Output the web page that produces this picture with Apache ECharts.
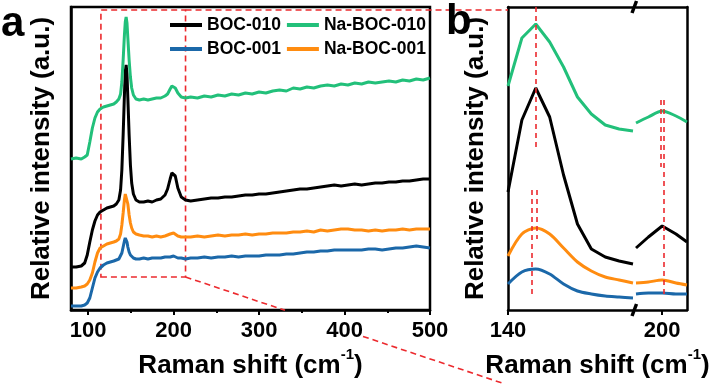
<!DOCTYPE html>
<html>
<head>
<meta charset="utf-8">
<script src="https://cdn.jsdelivr.net/npm/echarts@6/dist/echarts.min.js"></script>
<style>
  html, body { margin: 0; padding: 0; background: #fff; }
  #chart { width: 711px; height: 386px; }
</style>
</head>
<body>
<div id="chart"></div>
<script>
// ---- data (arbitrary intensity units) ----
var shiftA = [80, 86, 92, 96, 99, 102, 105, 108, 111, 114, 118, 122, 126, 130, 133, 136, 138, 139.5, 141, 142.5,
  143.5, 144.5, 145.5, 146.5, 148, 149.5, 151, 153, 156, 160, 165, 170, 175, 180, 185, 190, 193, 196, 198, 200,
  202, 205, 209, 214, 220, 228, 236, 244, 252, 260, 268, 276, 284, 292, 300, 308, 316, 324, 332, 340,
  348, 356, 364, 372, 380, 388, 396, 404, 412, 420, 428, 436, 444, 452, 460, 468, 476, 484, 492, 500];

var boc010A = [43, 43, 44, 47, 55, 68, 80, 89, 95, 98, 100, 102, 103, 104, 106, 110, 120, 140, 175, 215,
  238, 245, 236, 212, 175, 145, 127, 116, 110, 108, 108, 109, 108, 110, 111, 115, 121, 131, 137, 139,
  134, 122, 113, 110, 109, 110, 111, 112, 112, 113, 113, 114, 115, 115, 116, 116, 117, 118, 119, 120,
  121, 121, 122, 123, 124, 125, 124, 125, 126, 125, 126, 127, 127, 128, 128, 129, 129, 130, 131, 131];

var boc001A = [4, 4, 4, 5, 7, 12, 22, 32, 38, 42, 45, 47, 48, 49, 50, 51, 53, 57, 63, 69,
  72, 72, 68, 63, 58, 55, 53, 52, 51, 51, 52, 51, 52, 52, 52, 53, 53, 53, 54, 54,
  53, 52, 52, 51, 52, 52, 53, 52, 53, 53, 54, 53, 54, 54, 54, 55, 55, 55, 56, 56,
  57, 58, 58, 59, 59, 60, 60, 60, 60, 60, 61, 61, 60, 61, 62, 62, 63, 64, 63, 62];

var naBoc010A = [151, 152, 151, 153, 155, 168, 182, 192, 198, 201, 203, 204, 205, 206, 208, 211, 216, 228, 250, 275,
  288, 293, 287, 272, 250, 233, 222, 215, 211, 210, 211, 210, 211, 212, 212, 214, 216, 221, 224, 225,
  222, 217, 213, 212, 213, 212, 214, 213, 215, 214, 216, 215, 217, 216, 218, 217, 219, 220, 219, 222,
  221, 223, 222, 224, 225, 224, 226, 225, 227, 226, 228, 227, 228, 229, 228, 230, 229, 231, 230, 232];

var naBoc001A = [22, 22, 23, 24, 26, 30, 37, 48, 57, 62, 64, 66, 67, 68, 69, 71, 76, 85, 97, 110,
  116, 118, 114, 106, 95, 87, 82, 78, 76, 75, 74, 74, 73, 74, 73, 74, 75, 76, 77, 77,
  76, 74, 73, 73, 73, 74, 73, 74, 75, 74, 75, 75, 76, 75, 76, 76, 77, 77, 77, 78,
  78, 79, 78, 80, 79, 80, 81, 81, 80, 80, 79, 80, 79, 80, 80, 81, 80, 81, 81, 81];

// zoomed panel b, left part of the broken axis
var shiftB1 = [140, 142, 144, 146, 148, 150, 152, 154, 156, 158];
var boc010B1 = [118, 190, 222, 193, 135, 86, 61, 53, 49, 46];
var boc001B1 = [26, 38, 41, 36, 26, 19, 16, 14, 13, 12];
var naBoc010B1 = [224, 272, 286, 268, 243, 213, 196, 185, 181, 179];
var naBoc001B1 = [54, 76, 82, 76, 62, 48, 39, 33, 30, 27];

// zoomed panel b, right part of the broken axis
var shiftB2 = [196.2, 198, 200, 202, 203.6];
var boc010B2 = [62, 73, 84, 76, 68];
var boc001B2 = [16, 17, 17, 16, 16];
var naBoc010B2 = [187, 193, 199, 194, 188];
var naBoc001B2 = [27, 28, 30, 27, 25];

var ticksA = [100, 200, 300, 400, 500];
var minorTicksA = [150, 250, 350, 450];
var ticksB1 = [140];
var ticksB2 = [200];

// zoom box drawn on panel a: [xmin, xmax, ymin, ymax]
var zoomBoxA = [115, 214, 33, 300];
// red guide lines in panel b: [x, yFrom, yTo]
var guidesB1 = [[144.0, 303, 163], [143.45, 120, 15], [144.15, 120, 71]];
var guidesB2 = [[199.8, 210, 143], [200.25, 210, 13]];

// ---- style ----
var FONT = 'Arial, "Liberation Sans", sans-serif';
var RED = '#ec2a2e';
var COLORS = {
  'BOC-010': '#000000',
  'BOC-001': '#1b68a9',
  'Na-BOC-010': '#22c07a',
  'Na-BOC-001': '#ff8c10'
};
var AXW = 2.5;

function zip(xs, ys) {
  var out = [];
  for (var i = 0; i < xs.length; i++) out.push([xs[i], ys[i]]);
  return out;
}

function lineSeries(name, xs, ys, xi, yi, extra) {
  var s = {
    name: name,
    type: 'line',
    xAxisIndex: xi,
    yAxisIndex: yi,
    data: zip(xs, ys),
    showSymbol: false,
    symbol: 'none',
    clip: true,
    lineStyle: { width: 3, color: COLORS[name] },
    itemStyle: { color: COLORS[name] },
    emphasis: { disabled: true },
    silent: true
  };
  for (var k in extra) s[k] = extra[k];
  return s;
}

function guideMarkLine(list) {
  return {
    silent: true,
    symbol: ['none', 'none'],
    label: { show: false },
    lineStyle: { color: RED, width: 1.6, type: [5, 4] },
    emphasis: { disabled: true },
    data: list.map(function (g) {
      return [{ coord: [g[0], g[1]] }, { coord: [g[0], g[2]] }];
    })
  };
}

function nameStyle(shift) {
  return {
    fontFamily: FONT, fontSize: 26, fontWeight: 'bold', color: '#000',
    padding: [0, 0, 0, shift * 2],
    rich: {
      sup: { fontFamily: FONT, fontSize: 15, fontWeight: 'bold', color: '#000',
        verticalAlign: 'bottom', lineHeight: 15, padding: [0, 0, 17, 0] }
    }
  };
}
var labelStyle = { fontFamily: FONT, fontSize: 22, fontWeight: 'bold', color: '#000', margin: 10 };

function bottomAxis(grid, min, max, ticks, withName, shift) {
  return {
    type: 'value', gridIndex: grid, position: 'bottom', min: min, max: max,
    name: withName ? 'Raman shift (cm{sup|-1})' : '', nameLocation: 'middle', nameGap: 25,
    nameTextStyle: nameStyle(shift || 0),
    axisLine: { show: true, onZero: false, lineStyle: { color: '#000', width: AXW } },
    axisTick: { show: true, inside: false, length: 5, customValues: ticks, lineStyle: { color: '#000', width: 2 } },
    axisLabel: Object.assign({ customValues: ticks, showMinLabel: true, showMaxLabel: true }, labelStyle),
    splitLine: { show: false }
  };
}

function plainAxis(grid, pos, min, max) {
  return {
    type: 'value', gridIndex: grid, position: pos, min: min, max: max,
    axisLine: { show: true, onZero: false, lineStyle: { color: '#000', width: AXW } },
    axisTick: { show: false }, axisLabel: { show: false }, splitLine: { show: false }
  };
}

var Y_MAX = 303;
var gridA = { left: 71, right: 281, top: 7, bottom: 76 };
var gridB1 = { left: 508, right: 78, top: 7, bottom: 76 };
var gridB2 = { left: 636, right: 24, top: 7, bottom: 76 };
// centre of the whole panel b relative to the centre of its left part
var panelBShift = ((gridB1.left + 711 - gridB2.right) - (gridB1.left + 711 - gridB1.right)) / 2;

var yName = {
  name: 'Relative intensity (a.u.)', nameLocation: 'middle', nameRotate: 90,
  nameTextStyle: { fontFamily: FONT, fontSize: 26, fontWeight: 'bold', color: '#000' }
};

var yA = plainAxis(0, 'left', 0, Y_MAX);
Object.assign(yA, yName, { nameGap: 16 });
var yB1 = plainAxis(1, 'left', 0, Y_MAX);
Object.assign(yB1, yName, { nameGap: 19 });
var yB2 = plainAxis(2, 'right', 0, Y_MAX);

var minorA = {
  type: 'value', gridIndex: 0, position: 'bottom', min: 80, max: 500,
  axisLine: { show: false },
  axisTick: { show: true, inside: false, length: 3, customValues: minorTicksA, lineStyle: { color: '#000', width: 2 } },
  axisLabel: { show: false }, splitLine: { show: false }
};

var seriesList = [
  lineSeries('BOC-010', shiftA, boc010A, 0, 0),
  lineSeries('BOC-001', shiftA, boc001A, 0, 0),
  lineSeries('Na-BOC-010', shiftA, naBoc010A, 0, 0, {
    markArea: {
      silent: true,
      itemStyle: { color: 'rgba(0,0,0,0)', borderColor: RED, borderWidth: 1.6, borderType: [6, 4] },
      label: { show: false },
      emphasis: { disabled: true },
      data: [[{ coord: [zoomBoxA[0], zoomBoxA[2]] }, { coord: [zoomBoxA[1], zoomBoxA[3]] }]]
    }
  }),
  lineSeries('Na-BOC-001', shiftA, naBoc001A, 0, 0),

  lineSeries('BOC-010', shiftB1, boc010B1, 2, 1),
  lineSeries('BOC-001', shiftB1, boc001B1, 2, 1, { smooth: 0.3 }),
  lineSeries('Na-BOC-010', shiftB1, naBoc010B1, 2, 1, { markLine: guideMarkLine(guidesB1) }),
  lineSeries('Na-BOC-001', shiftB1, naBoc001B1, 2, 1, { smooth: 0.3 }),

  lineSeries('BOC-010', shiftB2, boc010B2, 4, 2),
  lineSeries('BOC-001', shiftB2, boc001B2, 4, 2, { smooth: 0.3 }),
  lineSeries('Na-BOC-010', shiftB2, naBoc010B2, 4, 2, { smooth: 0.3, markLine: guideMarkLine(guidesB2) }),
  lineSeries('Na-BOC-001', shiftB2, naBoc001B2, 4, 2, { smooth: 0.3 })
];

var chart = echarts.init(document.getElementById('chart'), null, { renderer: 'canvas' });

var gridBase = { containLabel: false, outerBoundsMode: 'none' };
var option = {
  animation: false,
  backgroundColor: '#fff',
  grid: [
    Object.assign({ show: true, borderColor: '#000', borderWidth: AXW, backgroundColor: 'transparent' }, gridBase, gridA),
    Object.assign({}, gridBase, gridB1),
    Object.assign({}, gridBase, gridB2)
  ],
  xAxis: [
    bottomAxis(0, 80, 500, ticksA, true, 0),
    minorA,
    bottomAxis(1, 140, 158, ticksB1, true, panelBShift),
    plainAxis(1, 'top', 140, 158),
    bottomAxis(2, 196.2, 203.6, ticksB2, false, 0),
    plainAxis(2, 'top', 196.2, 203.6)
  ],
  yAxis: [yA, yB1, yB2],
  legend: {
    left: 170, top: 16, padding: 0,
    width: 262,
    icon: 'rect', itemWidth: 32, itemHeight: 4, itemGap: 6,
    selectedMode: false,
    data: ['BOC-010', 'Na-BOC-010', 'BOC-001', 'Na-BOC-001'],
    textStyle: { fontFamily: FONT, fontSize: 17.5, fontWeight: 'bold', color: '#000' }
  },
  series: seriesList
};
chart.setOption(option);

// ---- decorations: panel letters, zoom connectors, axis break marks ----
var boxTL = chart.convertToPixel({ xAxisIndex: 0, yAxisIndex: 0 }, [zoomBoxA[0], zoomBoxA[3]]);
var boxBR = chart.convertToPixel({ xAxisIndex: 0, yAxisIndex: 0 }, [zoomBoxA[1], zoomBoxA[2]]);
var bLeftX = chart.convertToPixel({ xAxisIndex: 2 }, 140);
var plotBottom = 386 - gridA.bottom;

var diagEnd = [505, 384];
var diagGap = [285, 363];
function diagY(x) {
  return boxBR[1] + (x - boxBR[0]) * (diagEnd[1] - boxBR[1]) / (diagEnd[0] - boxBR[0]);
}
var dashStyle = { stroke: RED, lineWidth: 1.6, lineDash: [6, 4] };

var breakX = (711 - gridB1.right + gridB2.left) / 2;
var topY = gridA.top;

chart.setOption({
  graphic: [
    { type: 'text', left: 1, top: 3, z: 100,
      style: { text: 'a', fontFamily: FONT, fontSize: 42, fontWeight: 'bold', fill: '#000' } },
    { type: 'text', left: 446, top: 1, z: 100,
      style: { text: 'b', fontFamily: FONT, fontSize: 42, fontWeight: 'bold', fill: '#000' } },
    { type: 'line', z: 50, silent: true,
      shape: { x1: boxBR[0], y1: boxTL[1], x2: bLeftX, y2: boxTL[1] }, style: dashStyle },
    { type: 'line', z: 50, silent: true,
      shape: { x1: boxBR[0], y1: boxBR[1], x2: diagGap[0], y2: diagY(diagGap[0]) }, style: dashStyle },
    { type: 'line', z: 50, silent: true,
      shape: { x1: diagGap[1], y1: diagY(diagGap[1]), x2: diagEnd[0], y2: diagEnd[1] }, style: dashStyle },
    { type: 'line', z: 60, silent: true,
      shape: { x1: breakX - 2.5, y1: topY + 6, x2: breakX + 2, y2: topY - 6 },
      style: { stroke: '#000', lineWidth: 3.5 } },
    { type: 'line', z: 60, silent: true,
      shape: { x1: breakX - 2.5, y1: plotBottom + 6, x2: breakX + 2, y2: plotBottom - 6 },
      style: { stroke: '#000', lineWidth: 3.5 } }
  ]
});
</script>
</body>
</html>
